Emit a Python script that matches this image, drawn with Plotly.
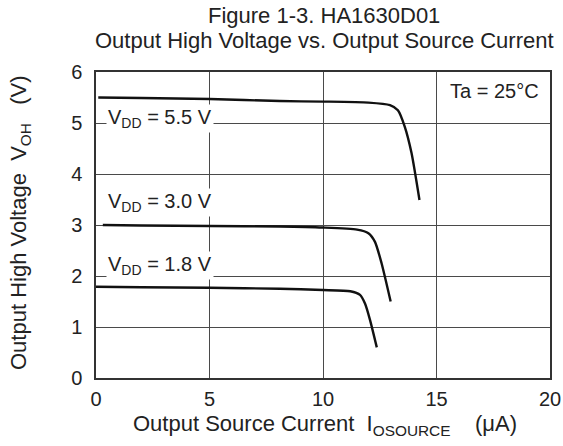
import plotly.graph_objects as go

# Data
i_55 = [0.1, 2.0, 5.0, 8.1, 10.0, 12.0, 12.95, 13.3, 13.6, 13.9, 14.25]
v_55 = [5.50, 5.49, 5.47, 5.43, 5.42, 5.40, 5.35, 5.25, 4.93, 4.41, 3.49]

i_30 = [0.3, 2.0, 5.0, 8.1, 10.0, 11.5, 12.0, 12.29, 12.58, 12.98]
v_30 = [3.00, 2.99, 2.98, 2.97, 2.95, 2.91, 2.84, 2.67, 2.25, 1.50]

i_18 = [0.0, 2.0, 5.0, 8.1, 10.0, 11.2, 11.63, 11.85, 12.07, 12.37]
v_18 = [1.79, 1.78, 1.77, 1.75, 1.725, 1.70, 1.63, 1.46, 1.14, 0.60]

x_ticks = [0, 5, 10, 15, 20]
y_ticks = [0, 1, 2, 3, 4, 5, 6]

FONT = "Liberation Sans, Arial, sans-serif"
FS = 20      # tick labels / in-plot labels
FT = 22      # titles
TXT = "#222222"

W, H = 563, 446
L, R, T, B = 96, 13, 72, 68
PW = W - L - R
PH = H - T - B


def px(page_x):
    return (page_x - L) / PW


def py(page_y):
    return 1 - (page_y - T) / PH


fig = go.Figure()
for xs, ys in [(i_55, v_55), (i_30, v_30), (i_18, v_18)]:
    fig.add_trace(go.Scatter(x=xs, y=ys, mode="lines",
                             line=dict(color="#111111", width=2.4, shape="spline", smoothing=0.6),
                             showlegend=False, hoverinfo="skip"))

labels = [("V<sub>DD</sub> = 5.5 V", 5.08), ("V<sub>DD</sub> = 3.0 V", 3.45), ("V<sub>DD</sub> = 1.8 V", 2.2)]
for txt, yv in labels:
    fig.add_annotation(x=0.42, y=yv, text=txt, showarrow=False, xanchor="left", yanchor="middle",
                       bgcolor="white", borderpad=1, font=dict(family=FONT, size=FS, color=TXT))

fig.add_annotation(x=19.6, y=5.62, text="Ta = 25°C", showarrow=False, xanchor="right", yanchor="middle",
                   font=dict(family=FONT, size=FS, color=TXT))

fig.add_annotation(xref="paper", yref="paper", x=px(324), y=py(16),
                   text="Figure 1-3. HA1630D01", showarrow=False, xanchor="center", yanchor="middle",
                   font=dict(family=FONT, size=FT, color=TXT))
fig.add_annotation(xref="paper", yref="paper", x=px(324), y=py(41),
                   text="Output High Voltage vs. Output Source Current", showarrow=False,
                   xanchor="center", yanchor="middle",
                   font=dict(family=FONT, size=FT, color=TXT))

# axis titles
fig.add_annotation(xref="paper", yref="paper", x=px(325), y=py(425),
                   text="Output Source Current  I<sub>OSOURCE</sub>    (μA)", showarrow=False,
                   xanchor="center", yanchor="middle",
                   font=dict(family=FONT, size=FT, color=TXT))
fig.add_annotation(xref="paper", yref="paper", x=px(20), y=py(223), textangle=-90,
                   text="Output High Voltage  V<sub>OH</sub>   (V)", showarrow=False,
                   xanchor="center", yanchor="middle",
                   font=dict(family=FONT, size=FT, color=TXT))

fig.update_layout(
    width=W, height=H,
    margin=dict(l=L, r=R, t=T, b=B, autoexpand=False),
    paper_bgcolor="white", plot_bgcolor="white",
    font=dict(family=FONT, size=FS, color=TXT),
)
fig.update_xaxes(range=[0, 20], tickvals=x_ticks, ticks="", showgrid=True, gridcolor="#4a4a4a",
                 gridwidth=1, showline=True, linecolor="#333", linewidth=1.5, mirror=True,
                 zeroline=False, automargin=False,
                 tickfont=dict(size=FS, color=TXT), ticklabelstandoff=2)
fig.update_yaxes(range=[0, 6], tickvals=y_ticks, ticks="", showgrid=True, gridcolor="#4a4a4a",
                 gridwidth=1, showline=True, linecolor="#333", linewidth=1.5, mirror=True,
                 zeroline=False, automargin=False,
                 tickfont=dict(size=FS, color=TXT), ticklabelstandoff=8)

fig.write_html("out.html", config={"displayModeBar": False},
               post_script="document.body.style.margin='0';")
